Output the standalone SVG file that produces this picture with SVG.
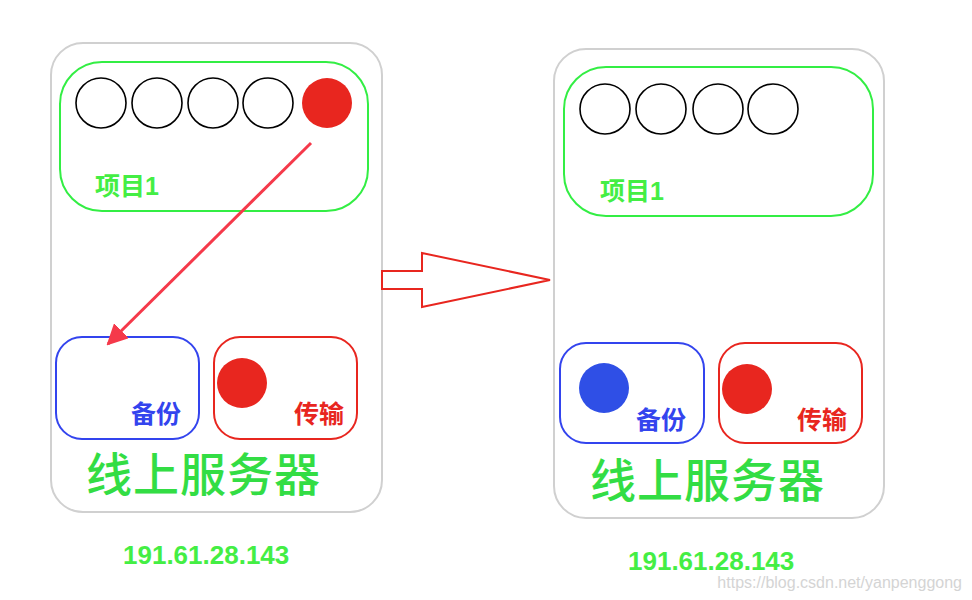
<svg xmlns="http://www.w3.org/2000/svg" width="972" height="600" viewBox="0 0 972 600">
<defs>
<style>
.srv{fill:#fff;stroke:#d0d0d0;stroke-width:2}
.proj{fill:none;stroke:#33ee44;stroke-width:2}
.bk{fill:none;stroke:#3344ee;stroke-width:2}
.tr{fill:none;stroke:#e8261f;stroke-width:2}
.slot{fill:#fff;stroke:#000;stroke-width:1.6}
.red{fill:#e8261f}
.blue{fill:#2f4fe6}
.t{font-family:"Liberation Sans","Noto Sans CJK SC",sans-serif;font-weight:bold}
.pl{font-size:25px;fill:#44ee44}
.bl{font-size:25px;fill:#3344ee}
.rl{font-size:25px;fill:#e8261f}
.big{font-family:"Noto Sans CJK SC",serif;font-size:46px;font-weight:500;fill:#33dd44;letter-spacing:1px}
.ip{font-size:26px;fill:#44ee44}
</style>
<marker id="ah" viewBox="0 0 10 10" refX="9" refY="5" markerWidth="7" markerHeight="7" markerUnits="strokeWidth" orient="auto">
<path d="M0,0 L10,5 L0,10 z" fill="#f5394a"/>
</marker>
</defs>
<rect width="972" height="600" fill="#fff"/>

<g id="server1">
<rect class="srv" x="51" y="43" width="331" height="469" rx="32"/>
<g id="project1-left">
<rect class="proj" x="60" y="62" width="308" height="149" rx="42"/>
<circle class="slot" cx="101" cy="103" r="25"/>
<circle class="slot" cx="157" cy="103" r="25"/>
<circle class="slot" cx="213" cy="103" r="25"/>
<circle class="slot" cx="268" cy="103" r="25"/>
<circle class="red" cx="327" cy="103" r="25"/>
<text class="t pl" x="95" y="195">项目1</text>
</g>
<g id="backup-left">
<rect class="bk" x="56" y="337" width="143" height="102" rx="26"/>
<text class="t bl" x="131" y="423">备份</text>
</g>
<g id="transfer-left">
<rect class="tr" x="214" y="337" width="143" height="102" rx="26"/>
<circle class="red" cx="242" cy="383" r="25"/>
<text class="t rl" x="294" y="423">传输</text>
</g>
<text class="big" x="86" y="491">线上服务器</text>
<text class="t ip" x="123" y="564">191.61.28.143</text>
</g>

<g id="server2">
<rect class="srv" x="554" y="49" width="330" height="469" rx="32"/>
<g id="project1-right">
<rect class="proj" x="564" y="67" width="309" height="149" rx="42"/>
<circle class="slot" cx="605" cy="109" r="25"/>
<circle class="slot" cx="661" cy="109" r="25"/>
<circle class="slot" cx="718" cy="109" r="25"/>
<circle class="slot" cx="773" cy="109" r="25"/>
<text class="t pl" x="600" y="200">项目1</text>
</g>
<g id="backup-right">
<rect class="bk" x="560" y="343" width="144" height="100" rx="26"/>
<circle class="blue" cx="604" cy="388" r="25"/>
<text class="t bl" x="636" y="429">备份</text>
</g>
<g id="transfer-right">
<rect class="tr" x="719" y="343" width="143" height="100" rx="26"/>
<circle class="red" cx="747" cy="389" r="25"/>
<text class="t rl" x="797" y="429">传输</text>
</g>
<text class="big" x="590" y="497">线上服务器</text>
<text class="t ip" x="628" y="570">191.61.28.143</text>
</g>

<g id="connectors">
<line x1="311" y1="143" x2="108" y2="344" stroke="#f5394a" stroke-width="3" marker-end="url(#ah)"/>
<polygon points="382,271 422,271 422,253 550,280 422,307 422,289 382,289" fill="#fff" stroke="#e8261f" stroke-width="2"/>
</g>

<text x="962" y="588" text-anchor="end" font-family="Liberation Sans,sans-serif" font-size="16" fill="#d4d4d4">https://blog.csdn.net/yanpenggong</text>
</svg>
